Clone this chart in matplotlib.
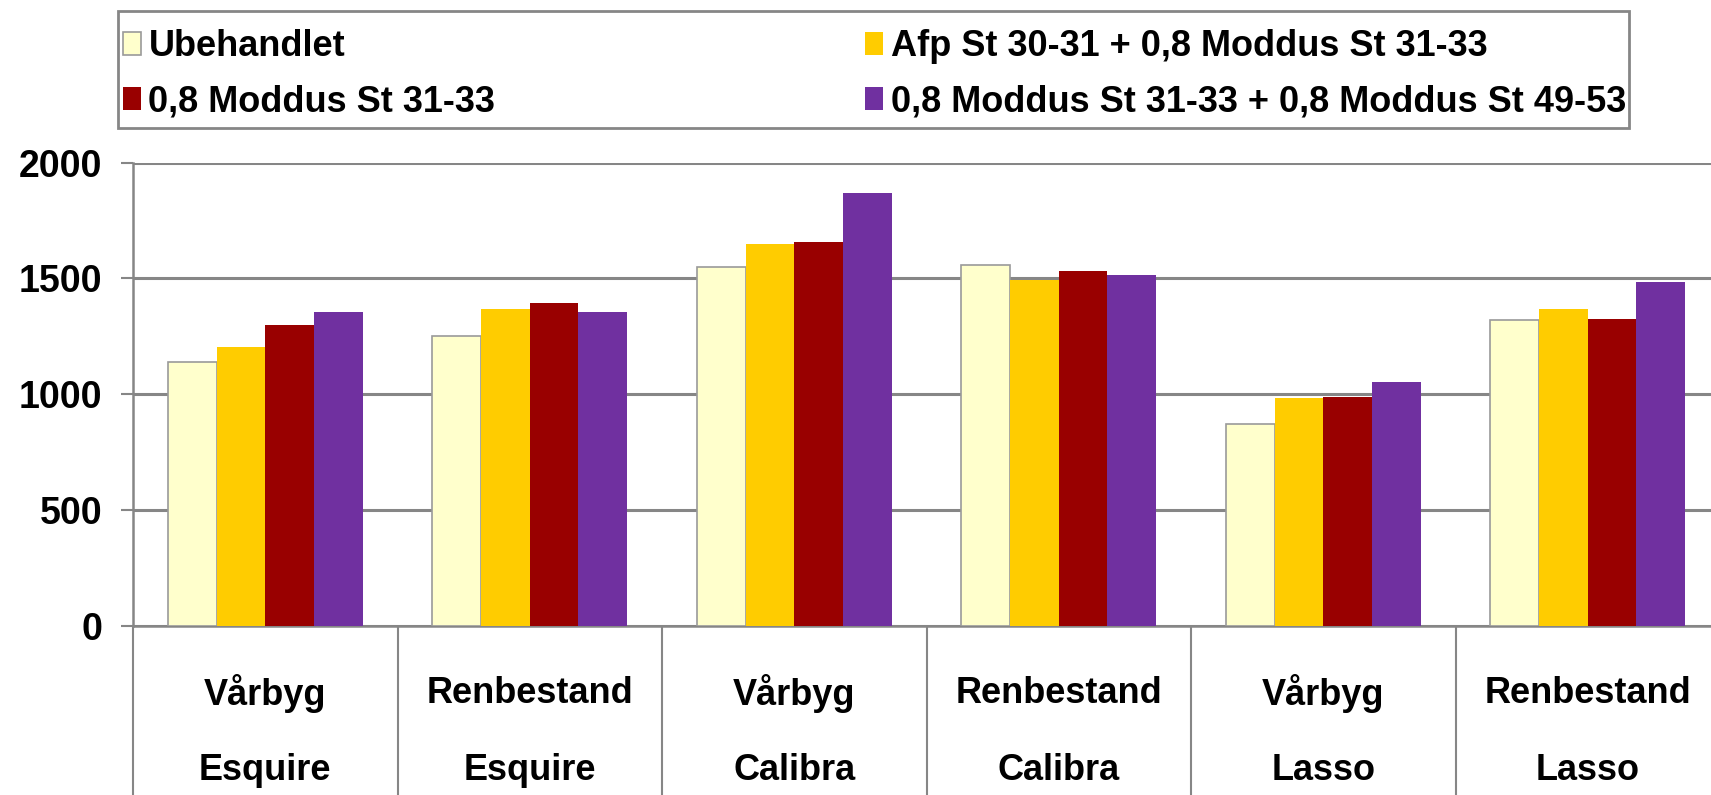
import numpy as np
import matplotlib
matplotlib.use("Agg")
import matplotlib.pyplot as plt
from matplotlib.patches import Rectangle

plt.rcParams['font.family'] = ['Liberation Sans', 'DejaVu Sans']
plt.rcParams['font.weight'] = 'bold'

# data
row1 = ["Vårbyg", "Renbestand", "Vårbyg", "Renbestand", "Vårbyg", "Renbestand"]
row2 = ["Esquire", "Esquire", "Calibra", "Calibra", "Lasso", "Lasso"]
series = ["Ubehandlet",
          "Afp St 30-31 + 0,8 Moddus St 31-33",
          "0,8 Moddus St 31-33",
          "0,8 Moddus St 31-33 + 0,8 Moddus St 49-53"]
ubehandlet = [1137, 1252, 1551, 1556, 869, 1321]
afp_moddus = [1205, 1369, 1648, 1491, 983, 1369]
moddus = [1298, 1392, 1658, 1530, 987, 1326]
moddus_2x = [1353, 1353, 1868, 1513, 1051, 1484]
yticks = [0, 500, 1000, 1500, 2000]

colors = ["#FFFFCC", "#FFCC00", "#990000", "#7030A0"]
edges = ["#9A9A9A", "none", "none", "none"]
grey = "#868686"
W, H = 1711, 795

fig = plt.figure(figsize=(W/100, H/100), dpi=100)
ax = fig.add_axes([133/W, 1 - 625.5/H, 1 - 133/W, (625.5 - 162.6)/H])

x = np.arange(len(row1))
w = 0.184
handles = []
for j, vals in enumerate([ubehandlet, afp_moddus, moddus, moddus_2x]):
    b = ax.bar(x + (j - 1.5) * w, vals, w, color=colors[j], edgecolor=edges[j],
               linewidth=1.2, label=series[j], zorder=3)
    handles.append(b)

ax.set_xlim(-0.5, 5.5 - 9/264.5)
ax.set_ylim(0, 2000)
ax.set_yticks(yticks)
ax.set_yticklabels([str(v) for v in yticks], fontsize=27, fontweight='bold')
ax.tick_params(axis='y', length=9, width=1.5, color=grey, pad=13)
ax.set_xticks([])
ax.yaxis.grid(True, color=grey, linewidth=2.2, zorder=0)
ax.set_axisbelow(True)
for s in ['top', 'right']:
    ax.spines[s].set_visible(False)
for s in ['left', 'bottom']:
    ax.spines[s].set_color(grey)
    ax.spines[s].set_linewidth(1.8)

# category table below the axis
trans = ax.get_xaxis_transform()
ax.vlines(np.arange(-0.5, 6), -0.5, 0, transform=trans, color=grey,
          linewidth=1.5, clip_on=False)
for i in x:
    ax.text(i, -0.147, row1[i], transform=trans, ha='center', va='center',
            fontsize=26, fontweight='bold')
    ax.text(i, -0.313, row2[i], transform=trans, ha='center', va='center',
            fontsize=26, fontweight='bold')

# legend: frame drawn separately, entries column-wise like the original
fig.patches.append(Rectangle((118/W, 1 - 128/H), (1629 - 118)/W, (128 - 11)/H,
                             transform=fig.transFigure, facecolor='white',
                             edgecolor=grey, linewidth=2, zorder=0))
order = [0, 2, 1, 3]
leg = fig.legend([handles[k] for k in order], [series[k] for k in order],
                 ncol=2, mode='expand', loc='upper left',
                 bbox_to_anchor=(116/W, 1 - 130/H, (1633 - 116)/W, (130 - 21.6)/H),
                 bbox_transform=fig.transFigure, borderaxespad=0,
                 prop={'size': 26, 'weight': 'bold'}, handlelength=0.5,
                 handleheight=0.6, handletextpad=0.2, labelspacing=0.57,
                 borderpad=0.2, frameon=False)

fig.savefig("out.png", dpi=100)
